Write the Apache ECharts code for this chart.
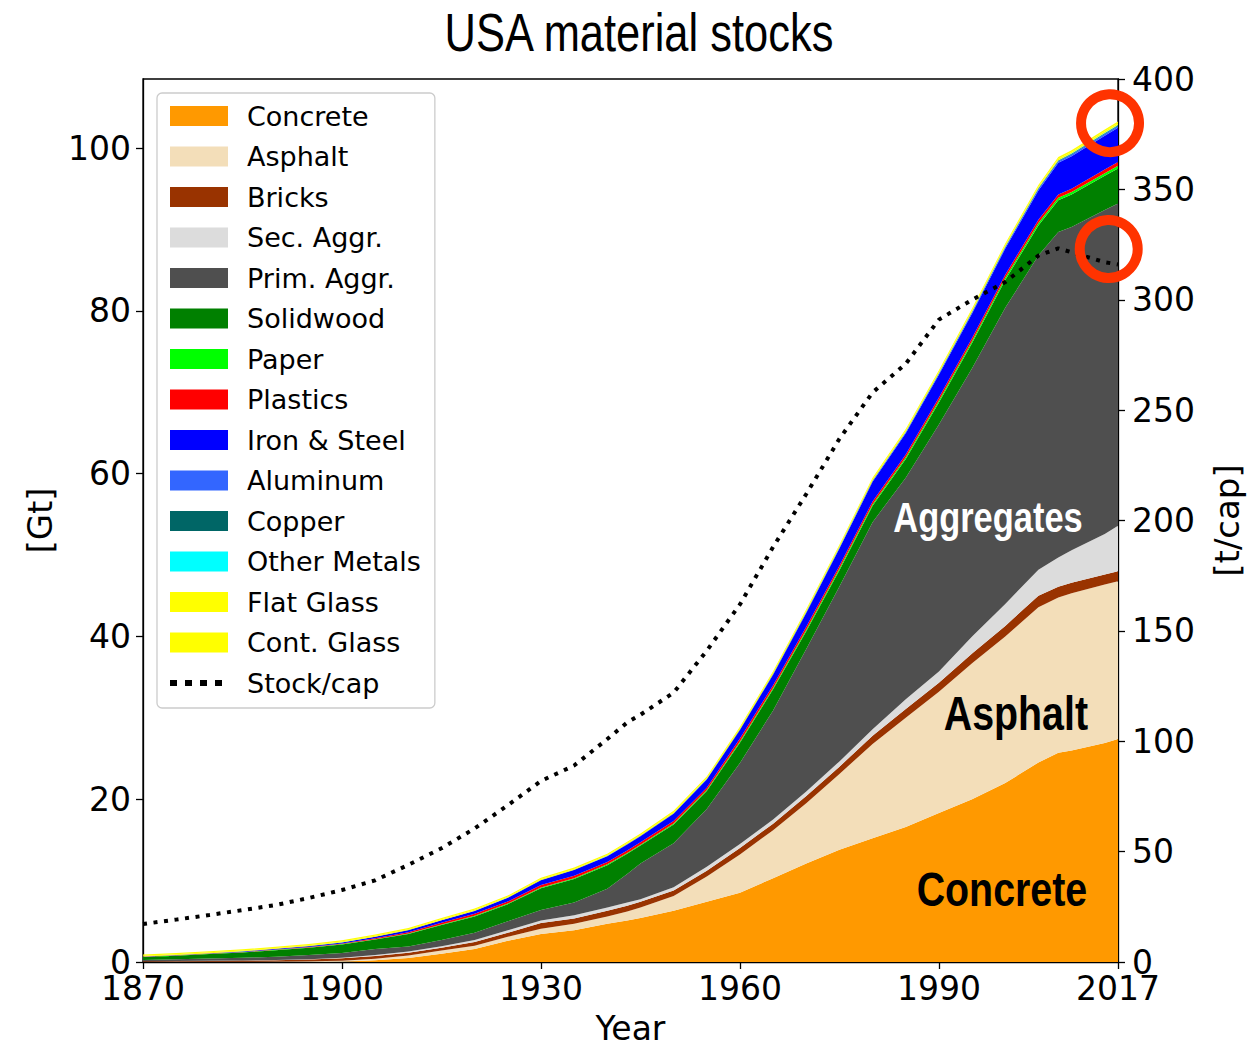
<!DOCTYPE html>
<html>
<head>
<meta charset="utf-8">
<title>USA material stocks</title>
<script src="https://cdn.jsdelivr.net/npm/echarts@6/dist/echarts.min.js"></script>
<style>
  html, body { margin: 0; padding: 0; background: #ffffff; }
  #chart { width: 1250px; height: 1046px; }
</style>
</head>
<body>
<div id="chart"></div>
<script>
// Years of the stock series
const years = [1870, 1875, 1880, 1885, 1890, 1895, 1900, 1905, 1910, 1915, 1920, 1925, 1930, 1935, 1940, 1943, 1945,
  1950, 1955, 1960, 1965, 1970, 1975, 1980, 1985, 1990, 1995, 2000, 2005, 2008, 2010, 2015, 2017];

// Material stocks per layer [Gt]
const concrete = [0, 0, 0, 0, 0, 0.01, 0.03, 0.2, 0.5, 1.0, 1.6, 2.6, 3.45, 3.9, 4.7, 5.1, 5.4,
  6.3, 7.4, 8.5, 10.3, 12.1, 13.8, 15.2, 16.6, 18.3, 20.0, 22.0, 24.5, 25.7, 26.0, 26.9, 27.4];
const asphalt = [0.005, 0.01, 0.02, 0.03, 0.05, 0.07, 0.12, 0.2, 0.3, 0.4, 0.4, 0.5, 0.65, 0.8, 0.9, 1.1, 1.3,
  1.8, 3.1, 4.7, 5.9, 7.4, 9.3, 11.6, 13.4, 14.9, 16.7, 18.0, 19.1, 19.1, 19.3, 19.5, 19.4];
const bricks = [0.075, 0.09, 0.11, 0.14, 0.17, 0.22, 0.3, 0.35, 0.35, 0.35, 0.45, 0.5, 0.7, 0.65, 0.7, 0.7, 0.7,
  0.7, 0.7, 0.8, 0.8, 0.9, 0.9, 1.0, 1.1, 1.1, 1.2, 1.3, 1.4, 1.3, 1.3, 1.2, 1.2];
const secAggr = [0.01, 0.01, 0.02, 0.02, 0.03, 0.03, 0.07, 0.1, 0.15, 0.2, 0.25, 0.3, 0.3, 0.4, 0.4, 0.4, 0.3,
  0.4, 0.5, 0.5, 0.5, 0.55, 0.65, 0.8, 1.2, 1.4, 2.1, 2.7, 3.2, 3.6, 4.0, 5.0, 5.6];
const primAggr = [0.16, 0.22, 0.27, 0.33, 0.4, 0.52, 0.58, 0.75, 0.6, 0.75, 0.9, 1.1, 1.3, 1.55, 2.3, 3.5, 4.4,
  5.4, 7.1, 9.95, 13.4, 17.5, 21.5, 25.45, 27.2, 30.35, 32.95, 36.4, 38.6, 40.0, 39.7, 39.8, 39.6];
const solidwood = [0.35, 0.45, 0.55, 0.65, 0.8, 0.9, 1.05, 1.15, 1.55, 1.85, 2.0, 2.1, 2.65, 2.9, 2.9, 2.5, 2.2,
  2.3, 2.2, 2.5, 2.6, 2.2, 2.0, 2.0, 2.3, 2.7, 3.1, 3.4, 3.7, 3.9, 4.0, 4.2, 4.3];
const paper = [0.02, 0.02, 0.03, 0.03, 0.04, 0.04, 0.05, 0.05, 0.06, 0.07, 0.08, 0.08, 0.1, 0.1, 0.1, 0.1, 0.1,
  0.12, 0.12, 0.15, 0.16, 0.18, 0.2, 0.2, 0.22, 0.25, 0.27, 0.28, 0.3, 0.3, 0.3, 0.33, 0.35];
const plastics = [0.02, 0.02, 0.03, 0.04, 0.05, 0.06, 0.08, 0.12, 0.15, 0.2, 0.25, 0.25, 0.3, 0.3, 0.3, 0.3, 0.3,
  0.3, 0.3, 0.35, 0.35, 0.35, 0.35, 0.35, 0.35, 0.35, 0.37, 0.38, 0.4, 0.4, 0.42, 0.44, 0.45];
const ironSteel = [0.03, 0.04, 0.05, 0.06, 0.08, 0.1, 0.12, 0.18, 0.25, 0.3, 0.35, 0.45, 0.6, 0.7, 0.7, 0.75, 0.75,
  0.9, 1.0, 1.05, 1.3, 1.7, 2.1, 2.4, 2.6, 2.8, 3.0, 3.2, 3.6, 3.9, 4.0, 4.15, 4.2];
const aluminum = [0, 0, 0, 0, 0, 0, 0.001, 0.002, 0.003, 0.004, 0.005, 0.008, 0.01, 0.012, 0.015, 0.018, 0.02,
  0.03, 0.04, 0.05, 0.06, 0.08, 0.09, 0.1, 0.11, 0.12, 0.14, 0.16, 0.19, 0.2, 0.21, 0.23, 0.24];
const copper = [0.002, 0.003, 0.003, 0.004, 0.005, 0.006, 0.008, 0.01, 0.012, 0.014, 0.016, 0.018, 0.02, 0.022, 0.025, 0.027, 0.028,
  0.03, 0.035, 0.04, 0.045, 0.05, 0.052, 0.055, 0.058, 0.06, 0.065, 0.07, 0.075, 0.08, 0.082, 0.088, 0.09];
const otherMetals = [0.001, 0.001, 0.001, 0.002, 0.002, 0.002, 0.003, 0.003, 0.004, 0.005, 0.005, 0.006, 0.007, 0.008, 0.009, 0.01, 0.01,
  0.01, 0.012, 0.015, 0.017, 0.02, 0.022, 0.025, 0.027, 0.03, 0.035, 0.04, 0.045, 0.05, 0.052, 0.057, 0.06];
const flatGlass = [0.1, 0.1, 0.1, 0.1, 0.1, 0.1, 0.1, 0.1, 0.1, 0.1, 0.1, 0.1, 0.1, 0.1, 0.1, 0.11, 0.11,
  0.11, 0.11, 0.12, 0.12, 0.12, 0.13, 0.13, 0.14, 0.14, 0.15, 0.15, 0.16, 0.16, 0.16, 0.17, 0.17];
const contGlass = [0.15, 0.15, 0.15, 0.15, 0.15, 0.15, 0.15, 0.15, 0.15, 0.15, 0.16, 0.16, 0.16, 0.16, 0.16, 0.17, 0.17,
  0.17, 0.17, 0.18, 0.18, 0.18, 0.19, 0.19, 0.2, 0.2, 0.21, 0.21, 0.22, 0.22, 0.22, 0.23, 0.23];

// Stock per capita [t/cap]
const stockPerCap = [17.2, 19.2, 21.3, 23.5, 25.8, 29.0, 32.6, 37.0, 44.0, 51.5, 60.5, 71.0, 82.0, 89.0, 101.0, 108.5, 112.0,
  122.0, 141.0, 162.0, 188.0, 212.0, 237.0, 258.0, 271.0, 291.0, 300.0, 308.0, 320.0, 323.3, 321.5, 317.0, 316.0];

// Tick labels
const yearTicks = [1870, 1900, 1930, 1960, 1990, 2017];
const gtTicks = [0, 20, 40, 60, 80, 100];
const capTicks = [0, 50, 100, 150, 200, 250, 300, 350, 400];

const layerNames = ['Concrete', 'Asphalt', 'Bricks', 'Sec. Aggr.', 'Prim. Aggr.', 'Solidwood', 'Paper', 'Plastics',
  'Iron & Steel', 'Aluminum', 'Copper', 'Other Metals', 'Flat Glass', 'Cont. Glass'];
const layerValues = [concrete, asphalt, bricks, secAggr, primAggr, solidwood, paper, plastics,
  ironSteel, aluminum, copper, otherMetals, flatGlass, contGlass];
const layerColors = ['#ff9900', '#f3deb9', '#993300', '#dcdcdc', '#4f4f4f', '#008000', '#00ff00', '#ff0000',
  '#0000ff', '#3366ff', '#006666', '#00ffff', '#ffff00', '#ffff00'];
const perCapName = 'Stock/cap';

const tickFont = { fontFamily: 'DejaVu Sans', fontSize: 33, color: '#000000' };
const axisStroke = { color: '#000000', width: 1.3 };
const plainNumber = (v) => String(v);

const chart = echarts.init(document.getElementById('chart'), null, { renderer: 'svg' });

// Stacked layers: the stock value is kept in the first dimension so that
// ECharts stacks along y while x carries the year.
const areaSeries = layerNames.map((name, i) => ({
  name: name,
  type: 'line',
  stack: 'stock',
  xAxisIndex: 0,
  yAxisIndex: 0,
  data: years.map((y, k) => [layerValues[i][k], y]),
  encode: { x: 1, y: 0 },
  symbol: 'none',
  showSymbol: false,
  smooth: false,
  lineStyle: { width: 0, opacity: 0 },
  itemStyle: { color: layerColors[i] },
  areaStyle: { color: layerColors[i], opacity: 1 },
  emphasis: { disabled: true },
  silent: true
}));

const perCapSeries = {
  name: perCapName,
  type: 'line',
  xAxisIndex: 0,
  yAxisIndex: 1,
  data: years.map((y, k) => [y, stockPerCap[k]]),
  symbol: 'none',
  showSymbol: false,
  lineStyle: { color: '#000000', width: 4, type: [4, 6.6], cap: 'butt' },
  itemStyle: { color: '#000000' },
  emphasis: { disabled: true },
  silent: true,
  z: 5
};

chart.setOption({
  animation: false,
  backgroundColor: '#ffffff',
  legend: {
    orient: 'vertical',
    left: 157,
    top: 93,
    padding: [9.5, 14, 11.5, 10],
    itemWidth: 58,
    itemHeight: 20,
    itemGap: 13.5,
    backgroundColor: '#ffffff',
    borderColor: '#cccccc',
    borderWidth: 1.3,
    borderRadius: 5,
    itemStyle: { borderWidth: 0 },
    textStyle: { fontFamily: 'DejaVu Sans', fontSize: 27, color: '#000000', padding: [0, 0, 0, 14] },
    selectedMode: false,
    data: layerNames.map(n => ({ name: n, icon: 'rect' }))
      .concat([{ name: perCapName, itemStyle: { opacity: 0 }, lineStyle: { width: 6, type: [7, 8], cap: 'butt' } }])
  },
  grid: {
    left: 143,
    right: 132,
    top: 79,
    bottom: 84,
    show: true,
    borderColor: '#000000',
    borderWidth: 1.3,
    backgroundColor: 'transparent',
    containLabel: false,
    outerBoundsMode: 'none'
  },
  xAxis: {
    type: 'value',
    min: 1870,
    max: 2017,
    axisLine: { show: true, onZero: false, lineStyle: axisStroke },
    axisTick: { show: true, length: 7, inside: false, lineStyle: axisStroke, customValues: yearTicks },
    axisLabel: Object.assign({ margin: 10, customValues: yearTicks, formatter: plainNumber }, tickFont),
    splitLine: { show: false },
    name: 'Year',
    nameLocation: 'middle',
    nameGap: 50,
    nameTextStyle: { fontFamily: 'DejaVu Sans', fontSize: 33, color: '#000000' }
  },
  yAxis: [
    {
      type: 'value',
      position: 'left',
      min: 0,
      max: 108.5,
      axisLine: { show: true, onZero: false, lineStyle: axisStroke },
      axisTick: { show: true, length: 7, inside: false, lineStyle: axisStroke, customValues: gtTicks },
      axisLabel: Object.assign({ margin: 12, customValues: gtTicks, formatter: plainNumber }, tickFont),
      splitLine: { show: false },
      name: '[Gt]',
      nameLocation: 'middle',
      nameRotate: 90,
      nameGap: 86,
      nameTextStyle: { fontFamily: 'DejaVu Sans', fontSize: 34, color: '#000000' }
    },
    {
      type: 'value',
      position: 'right',
      min: 0,
      max: 400,
      axisLine: { show: true, onZero: false, lineStyle: axisStroke },
      axisTick: { show: true, length: 7, inside: false, lineStyle: axisStroke, customValues: capTicks },
      axisLabel: Object.assign({ margin: 14, customValues: capTicks, formatter: plainNumber }, tickFont),
      splitLine: { show: false },
      name: '[t/cap]',
      nameLocation: 'middle',
      nameRotate: 90,
      nameGap: 92,
      nameTextStyle: { fontFamily: 'DejaVu Sans', fontSize: 34, color: '#000000' }
    }
  ],
  series: areaSeries.concat([perCapSeries])
});

// Title, in-plot labels and highlight rings
const gtSeriesIdx = 0;
const capSeriesIdx = areaSeries.length;
const toPx = (idx, pt) => chart.convertToPixel({ seriesIndex: idx }, pt);

const aggPos = toPx(gtSeriesIdx, [1997.4, 54.7]);
const aspPos = toPx(gtSeriesIdx, [2001.6, 30.6]);
const conPos = toPx(gtSeriesIdx, [1999.5, 9.0]);
const ringTop = toPx(capSeriesIdx, [2015.8, 380]);
const ringMid = toPx(capSeriesIdx, [2015.6, 323]);

const ring = (p) => ({
  type: 'circle',
  shape: { cx: p[0], cy: p[1], r: 29 },
  style: { fill: 'none', stroke: '#ff3300', lineWidth: 10 },
  z: 100,
  silent: true
});
// Condensed sans text: Liberation Sans squeezed horizontally
const narrowText = (x, y, text, color, size, weight) => ({
  type: 'text',
  x: x,
  y: y,
  scaleX: 0.82,
  style: {
    text: text,
    fill: color,
    font: weight + ' ' + size + 'px "Liberation Sans", Arial, sans-serif',
    align: 'center',
    verticalAlign: 'middle'
  },
  z: 100,
  silent: true
});

chart.setOption({
  graphic: [
    narrowText(639, 32, 'USA material stocks', '#000000', 53, 'normal'),
    narrowText(aggPos[0], aggPos[1], 'Aggregates', '#ffffff', 42, 'bold'),
    narrowText(aspPos[0], aspPos[1], 'Asphalt', '#000000', 48, 'bold'),
    narrowText(conPos[0], conPos[1], 'Concrete', '#000000', 48, 'bold'),
    ring(ringTop),
    ring(ringMid)
  ]
});
</script>
</body>
</html>
